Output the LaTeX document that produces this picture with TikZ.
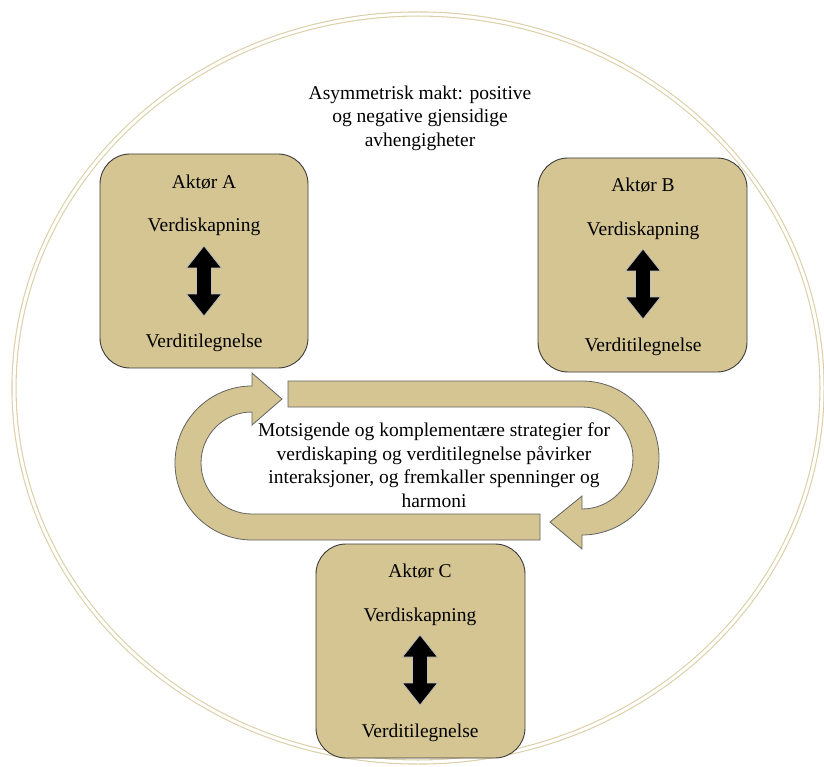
\documentclass[tikz,border=0pt]{standalone}
\usepackage{fontspec}
\setmainfont{Liberation Serif}
\definecolor{tan}{HTML}{D4C593}
\definecolor{ringtan}{HTML}{DCCFA6}
\definecolor{edge}{HTML}{3C3C3C}
\tikzset{
  actor/.style={draw=edge, line width=0.9pt, fill=tan, rounded corners=30pt},
  band/.style={draw=edge!80, line width=0.8pt, fill=tan},
  lbl/.style={font=\fontsize{19.5}{23.5}\selectfont, inner sep=0pt, align=center},
  pics/dblarrow/.style={code={
    \fill[black, draw=white!75!black, line width=0.7pt]
      (0,-35) -- (17.5,-13) -- (7.5,-13) -- (7.5,13) -- (17.5,13) -- (0,35)
      -- (-17.5,13) -- (-7.5,13) -- (-7.5,-13) -- (-17.5,-13) -- cycle;
  }}
}
\begin{document}
\begin{tikzpicture}[x=1pt, y=-1pt]
\useasboundingbox (0,0) rectangle (824,767);
\fill[white] (0,0) rectangle (824,767);

% outer ring
\draw[ringtan, line width=1.1pt, double=white, double distance=3pt]
  (418,388) ellipse[x radius=404, y radius=374];

\node[lbl] (title) at (420,118) {Asymmetrisk makt: positive\\og negative gjensidige\\avhengigheter};

% actor boxes
\draw[actor] (100,154) rectangle (308,368);
\node[lbl] (aA) at (204,182) {Aktør A};
\node[lbl] (aAv) at (204,227) {Verdiskapning};
\pic (arrA) at (204,281) {dblarrow};
\node[lbl] (aAt) at (204,343) {Verditilegnelse};

\draw[actor] (538,158) rectangle (747,372);
\node[lbl] (aB) at (643,185) {Aktør B};
\node[lbl] (aBv) at (643,231) {Verdiskapning};
\pic (arrB) at (643,284) {dblarrow};
\node[lbl] (aBt) at (643,347) {Verditilegnelse};

\draw[actor] (316,544) rectangle (525,758);
\node[lbl] (aC) at (420,571) {Aktør C};
\node[lbl] (aCv) at (420,617) {Verdiskapning};
\pic (arrC) at (420,670) {dblarrow};
\node[lbl] (aCt) at (420,733) {Verditilegnelse};

% circular arrows
\draw[band] (288,381) -- (582,381) arc[start angle=-90, end angle=90, radius=77]
  -- (582,549) -- (550,522) -- (582,496) -- (582,509)
  arc[start angle=90, end angle=-90, radius=51] -- (288,407) -- cycle;
\draw[band] (540,540) -- (252,540) arc[start angle=90, end angle=270, radius=77]
  -- (252,373) -- (282,399) -- (252,425) -- (252,412)
  arc[start angle=270, end angle=90, radius=51] -- (540,514) -- cycle;

\node[lbl] (mid) at (434,465) {Motsigende og komplementære strategier for\\verdiskaping og verditilegnelse påvirker\\interaksjoner, og fremkaller spenninger og\\harmoni};
\end{tikzpicture}
\end{document}
